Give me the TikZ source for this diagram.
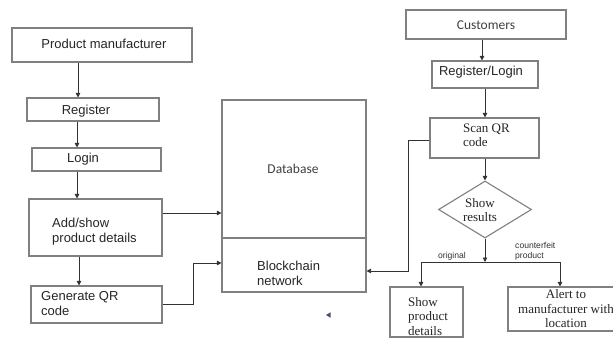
\documentclass[tikz,border=0pt]{standalone}
\usepackage{fontspec}
\setmainfont{Liberation Sans}
\newfontfamily\serifa{Liberation Serif}
\newfontfamily\calib{Carlito}
\usetikzlibrary{arrows.meta,shapes.geometric}
\begin{document}
\begin{tikzpicture}[x=1pt,y=-1pt,
  box/.style={draw=black!50, line width=1.1pt, rectangle, inner sep=0pt},
  arr/.style={draw=black!80, line width=0.8pt, -{Triangle[length=4.5pt,width=4.5pt]}},
  ln/.style={draw=black!80, line width=0.8pt},
  txt/.style={font=\fontsize{13}{15}\selectfont, inner sep=0pt, align=left, text=black!85},
  stxt/.style={font=\serifa\fontsize{13}{14.5}\selectfont, inner sep=0pt, text=black!85},
  ctxt/.style={font=\calib\fontsize{13.5}{15}\selectfont, inner sep=0pt, text=black!75},
  small/.style={font=\fontsize{8.6}{10}\selectfont, inner sep=0pt, align=left, text=black!80}]
\fill[white] (0,0) rectangle (613,338);
\clip (0,0) rectangle (613,338);
% left column
\node[box, minimum width=180pt, minimum height=34pt] (pm) at (102,45) {};
\node[txt] (pmt) at (104,44) {Product manufacturer};
\node[box, minimum width=132pt, minimum height=23pt] (reg) at (93,109.5) {};
\node[txt] (regt) at (86,111) {Register};
\node[box, minimum width=129pt, minimum height=23pt] (login) at (96.5,159.5) {};
\node[txt] (logint) at (83,159) {Login};
\node[box, minimum width=133pt, minimum height=57pt] (add) at (95.5,227.5) {};
\node[txt, anchor=west] (addt) at (52,231.5) {Add/show\\product details};
\node[box, minimum width=131pt, minimum height=37pt] (gen) at (96.5,304.5) {};
\node[txt, anchor=west] (gent) at (41,304) {Generate QR\\code};
% middle
\node[box, minimum width=144pt, minimum height=138pt] (db) at (294,169) {};
\node[ctxt] (dbt) at (293,169) {Database};
\node[box, minimum width=144pt, minimum height=54pt] (bc) at (294,265) {};
\node[txt, anchor=west] (bct) at (257,273.5) {Blockchain\\network};
% right column
\node[box, minimum width=160pt, minimum height=29pt] (cust) at (486,24.5) {};
\node[ctxt] (custt) at (486,25) {Customers};
\node[box, minimum width=106pt, minimum height=27pt] (rl) at (485,74.5) {};
\node[txt] (rlt) at (481,72) {Register/Login};
\node[box, minimum width=109pt, minimum height=40pt] (scan) at (484.5,138) {};
\node[stxt, anchor=west, align=left] (scant) at (463,135.5) {Scan QR\\code};
\node[draw=black!50, line width=1.1pt, diamond, aspect=1.63, minimum width=93pt, minimum height=57pt, inner sep=0pt] (sr) at (485,209.5) {};
\node[stxt, align=center] (srt) at (480,210) {Show\\results};
\node[box, minimum width=73pt, minimum height=50pt] (spd) at (426.5,312) {};
\node[stxt, anchor=west, align=left] (spdt) at (408,316.5) {Show\\product\\details};
\node[box, minimum width=116pt, minimum height=44pt] (alert) at (566,309) {};
\node[stxt, align=center] (alertt) at (566,309) {Alert to\\manufacturer with\\location};
% labels
\node[small] (orig) at (452,256) {original};
\node[small, anchor=west] (cfp) at (515,251) {counterfeit\\product};
% junction coordinates
\coordinate (j) at (485,262);
\coordinate (g1) at (193,263);
\coordinate (s1) at (408,140);
% connectors
\draw[arr] (pm.south -| 78,0) -- (reg.north -| 78,0);
\draw[arr] (reg.south -| 77,0) -- (login.north -| 77,0);
\draw[arr] (login.south -| 77,0) -- (add.north -| 77,0);
\draw[arr] (add.south -| 79,0) -- (gen.north -| 79,0);
\draw[arr] (add.east |- 0,213) -- (db.west |- 0,213);
\draw[arr] (gen.east) -| (g1) -- (bc.west |- g1);
\draw[arr] (cust.south -| 482,0) -- (rl.north -| 482,0);
\draw[arr] (rl.south -| 485,0) -- (scan.north -| 485,0);
\draw[arr] (scan.south -| 485,0) -- (sr.north);
\draw[arr] (sr.south) -- (j);
\draw[ln] (j -| 421,0) -- (j -| 560,0);
\draw[arr] (j -| 421,0) -- (spd.north -| 421,0);
\draw[arr] (j -| 560,0) -- (alert.north -| 560,0);
\draw[arr] (scan.west |- s1) -- (s1) |- (bc.east |- 0,271);
% stray mark
\fill[black!60!blue!40!gray] (326,315) -- (330.5,312.3) -- (330.5,317.7) -- cycle;
\end{tikzpicture}
\end{document}
